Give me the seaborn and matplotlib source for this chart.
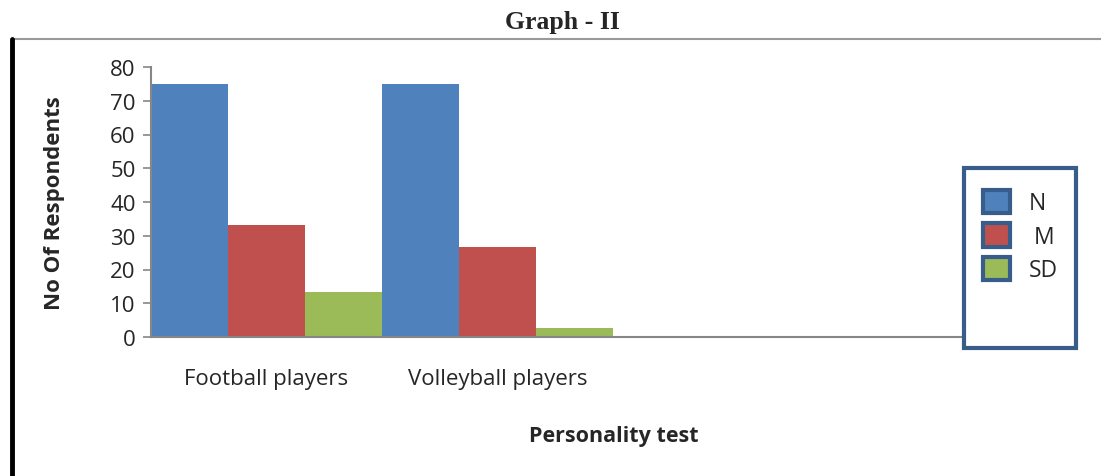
import numpy as np
import pandas as pd
import seaborn as sns
import matplotlib.pyplot as plt
from matplotlib.patches import Patch, Rectangle
from matplotlib.lines import Line2D

# data
groups = ["Football players", "Volleyball players"]
series = ["N", "M", "SD"]
n_vals = [75, 75]
m_vals = [33.33, 26.67]
sd_vals = [13.33, 2.67]
colors = ["#4f81bd", "#c0504d", "#9bbb59"]

df = pd.DataFrame({
    "group": groups * 3,
    "series": [s for s in series for _ in groups],
    "value": n_vals + m_vals + sd_vals,
})

sns.set_style("white")
plt.rcParams["font.family"] = ["Open Sans", "DejaVu Sans"]

fig = plt.figure(figsize=(11.01, 4.77), dpi=100)
ax = fig.add_axes([151 / 1101, 1 - 338 / 477, 924 / 1101, 270 / 477])

sns.barplot(data=df, x="group", y="value", hue="series", order=groups,
            hue_order=series, palette=colors, width=1.0, saturation=1,
            ax=ax, legend=False, edgecolor="none")

ax.set_xlim(-0.5, 3.5)
ax.set_ylim(0, 80)
ax.set_yticks(range(0, 81, 10))
for s in ["top", "right"]:
    ax.spines[s].set_visible(False)
for s in ["left", "bottom"]:
    ax.spines[s].set_color("#868686")
    ax.spines[s].set_linewidth(1.5)
ax.tick_params(axis="y", length=6, width=1.2, color="#868686", pad=5,
               labelsize=16, left=True)
ax.tick_params(axis="x", length=0, pad=22, labelsize=16)

ax.set_ylabel("No Of Respondents", fontsize=16, fontweight="bold")
ax.set_xlabel("Personality test", fontsize=15.5, fontweight="bold")
ax.yaxis.set_label_coords(-0.093, 0.5)
ax.xaxis.set_label_coords(0.501, -0.325)

# outer frame lines
fig.add_artist(Line2D([12 / 1101, 1], [1 - 40 / 477] * 2, color="#9a9a9a", lw=1.5))
fig.add_artist(Line2D([12 / 1101] * 2, [0, 1 - 40 / 477], color="black", lw=3.5))

fig.text(0.511, 1 - 23 / 477, "Graph - II", family="Liberation Serif",
         fontweight="bold", fontsize=18.5, ha="center", va="center")

# legend box
box = Rectangle((964 / 1101, 1 - 349 / 477), 112 / 1101, 180 / 477,
                transform=fig.transFigure, facecolor="white",
                edgecolor="#385d8a", lw=3, zorder=5)
fig.add_artist(box)
handles = [Patch(facecolor=c, edgecolor="#385d8a", lw=3) for c in colors]
fig.legend(handles, ["N", " M", "SD"], loc="upper left",
           bbox_to_anchor=(962 / 1101, 1 - 170 / 477), frameon=False,
           fontsize=16.5, handlelength=1.2, handleheight=1.2,
           labelspacing=0.35, handletextpad=0.8)

fig.savefig("out.png", dpi=100)
